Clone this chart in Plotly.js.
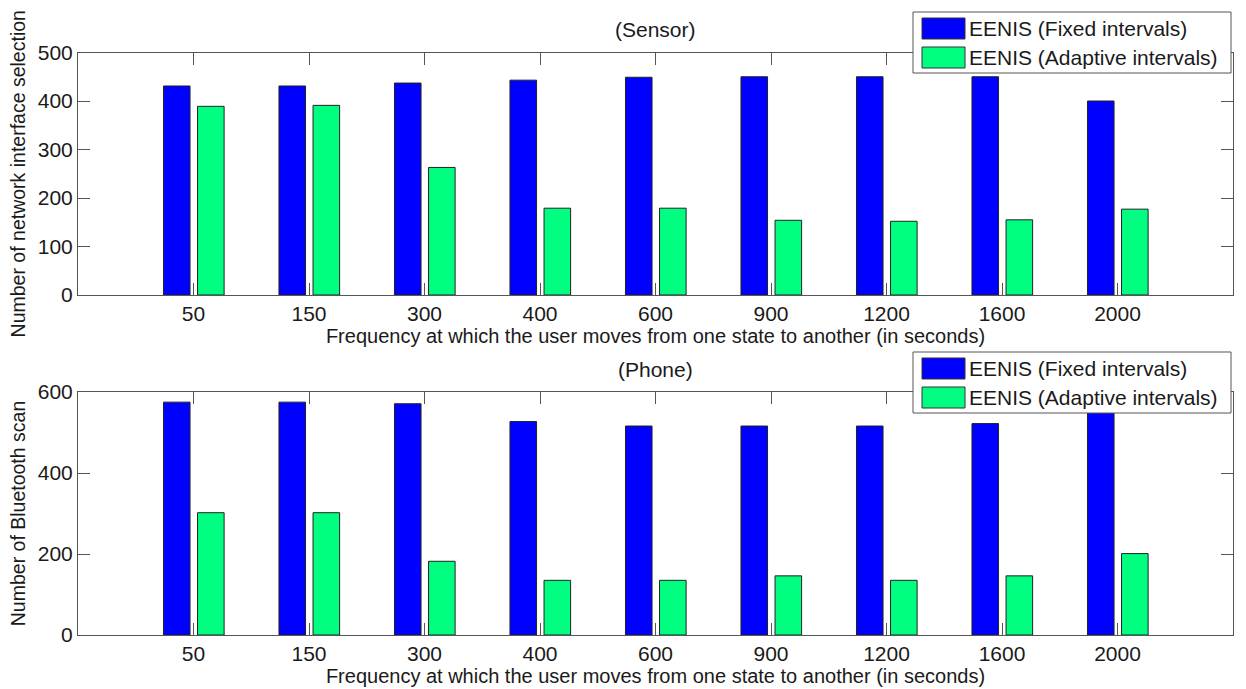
<!DOCTYPE html>
<html><head><meta charset="utf-8">
<script src="https://cdn.plot.ly/plotly-3.0.1.min.js"></script>
<style>html,body{margin:0;padding:0;background:#fff}</style>
</head><body><div id="chart" style="width:1246px;height:689px"></div>
<script>
const categories = ['50','150','300','400','600','900','1200','1600','2000'];
const seriesNames = ['EENIS (Fixed intervals)','EENIS (Adaptive intervals)'];
const sensorFixed = [431,431,437,443,449,450,450,450,400];
const sensorAdaptive = [389,391,263,179,179,154,152,155,177];
const phoneFixed = [575,575,571,527,516,516,516,522,580];
const phoneAdaptive = [302,302,182,135,135,146,135,146,201];
const panelTitles = ['(Sensor)','(Phone)'];
const xTitle = 'Frequency at which the user moves from one state to another (in seconds)';
const yTitles = ['Number of network interface selection','Number of Bluetooth scan'];
const colors = ['#0000ff','#00ff80'];

const W = 1246, H = 689;
const X = px => px / W;
const Y = py => 1 - py / H;
const FONT = 'Liberation Sans, Arial, sans-serif';
const TXT = '#1a1a1a';

function bar(vals, k, xa, ya){
  return {type:'bar', x:categories, y:vals, name:seriesNames[k], xaxis:xa, yaxis:ya,
    width:0.23, offset: k===0 ? -0.26 : 0.035,
    marker:{color:colors[k], line:{color:'#222', width:1}}, showlegend:false};
}
const data = [
  bar(sensorFixed,0,'x','y'), bar(sensorAdaptive,1,'x','y'),
  bar(phoneFixed,0,'x2','y2'), bar(phoneAdaptive,1,'x2','y2')
];

const axisCommon = {showline:true, linecolor:'#555', linewidth:1, mirror:'allticks',
  ticks:'inside', ticklen:12, tickcolor:'#555', showgrid:false, zeroline:false,
  tickfont:{family:FONT, size:21, color:TXT}, automargin:false, fixedrange:true};

function xax(anchor){
  return Object.assign({}, axisCommon, {domain:[X(78), X(1233)], anchor:anchor, type:'category',
    range:[-1, 9], title:{text:xTitle, font:{family:FONT, size:20, color:TXT}, standoff:2}});
}
function yax(anchor, dom, rng, dt, t){
  return Object.assign({}, axisCommon, {domain:dom, anchor:anchor, range:rng, dtick:dt,
    title:{text:t, font:{family:FONT, size:19.5, color:TXT}, standoff:6}});
}

const shapes = [], annotations = [];
function legendAt(dy){
  shapes.push({type:'rect', xref:'paper', yref:'paper', layer:'above',
    x0:X(913), x1:X(1231), y0:Y(12+dy), y1:Y(73+dy), fillcolor:'#fff', line:{color:'#555', width:1}});
  for (let k=0;k<2;k++){
    const top = (k===0 ? 18 : 47) + dy;
    shapes.push({type:'rect', xref:'paper', yref:'paper', layer:'above',
      x0:X(922), x1:X(965), y0:Y(top), y1:Y(top+21), fillcolor:colors[k], line:{color:'#333', width:1}});
    annotations.push({xref:'paper', yref:'paper', x:X(967), y:Y(top+10.5), xanchor:'left', yanchor:'middle',
      text:seriesNames[k], showarrow:false, font:{family:FONT, size:21, color:TXT}});
  }
}
legendAt(0); legendAt(340);
annotations.push({xref:'paper', yref:'paper', x:X(655), y:Y(30), xanchor:'center', yanchor:'middle',
  text:panelTitles[0], showarrow:false, font:{family:FONT, size:21, color:TXT}});
annotations.push({xref:'paper', yref:'paper', x:X(655), y:Y(369), xanchor:'center', yanchor:'middle',
  text:panelTitles[1], showarrow:false, font:{family:FONT, size:21, color:TXT}});

const layout = {
  width:W, height:H, margin:{l:0, r:0, t:0, b:0},
  paper_bgcolor:'#fff', plot_bgcolor:'#fff', barmode:'overlay',
  xaxis: xax('y'), yaxis: yax('x', [Y(295), Y(52.5)], [0,500], 100, yTitles[0]),
  xaxis2: xax('y2'), yaxis2: yax('x2', [Y(635), Y(392)], [0,600], 200, yTitles[1]),
  shapes, annotations, showlegend:false
};
Plotly.newPlot('chart', data, layout, {displayModeBar:false, staticPlot:true});
</script></body></html>
